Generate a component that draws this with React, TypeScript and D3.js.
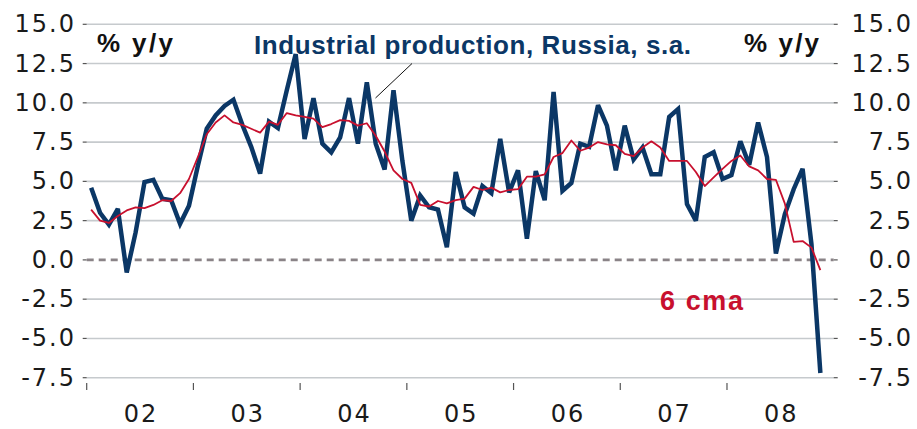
import React from "react";
import * as d3 from "d3";

// Monthly data, Jan 2002 .. Nov 2008 (% y/y)
const ipValues: number[] = [
  // 2002
  4.6, 3.0, 2.25, 3.25, -0.8, 1.75, 4.95, 5.1, 3.9, 3.8, 2.3, 3.45,
  // 2003
  6.0, 8.35, 9.2, 9.8, 10.2, 8.6, 7.2, 5.5, 8.8, 8.4, 10.8, 13.1,
  // 2004
  7.7, 10.3, 7.4, 6.85, 7.8, 10.3, 7.4, 11.3, 7.4, 5.75, 10.8, 6.3,
  // 2005
  2.5, 4.1, 3.35, 3.2, 0.8, 5.6, 3.35, 2.95, 4.7, 4.25, 7.7, 4.3,
  // 2006
  5.7, 1.35, 5.65, 3.8, 10.7, 4.4, 4.9, 7.4, 7.2, 9.85, 8.55, 5.7,
  // 2007
  8.55, 6.4, 7.15, 5.45, 5.45, 9.1, 9.6, 3.55, 2.5, 6.55, 6.85, 5.15,
  // 2008
  5.4, 7.55, 6.05, 8.75, 6.55, 0.4, 2.9, 4.5, 5.8, 1.0, -7.2,
];

// 6-month centred moving average, same months
const cmaValues: number[] = [
  // 2002
  3.2, 2.5, 2.35, 2.8, 3.15, 3.35, 3.3, 3.5, 3.8, 3.75, 4.25, 5.15,
  // 2003
  6.55, 8.0, 8.75, 9.2, 8.75, 8.6, 8.35, 8.1, 8.8, 8.6, 9.35, 9.2,
  // 2004
  9.1, 9.0, 8.45, 8.65, 8.9, 8.85, 8.55, 8.7, 7.9, 6.9, 5.7, 5.15,
  // 2005
  4.9, 3.5, 3.4, 3.75, 3.6, 3.8, 3.9, 4.65, 4.45, 4.6, 4.3, 4.45,
  // 2006
  4.5, 5.3, 5.3, 5.45, 6.55, 6.8, 7.6, 6.95, 7.15, 7.5, 7.35, 7.3,
  // 2007
  6.75, 6.6, 7.15, 7.55, 7.15, 6.3, 6.3, 6.3, 5.6, 4.7, 5.25, 5.8,
  // 2008
  6.3, 6.65, 5.95, 5.7, 5.15, 5.1, 3.6, 1.15, 1.2, 0.78, -0.65,
];

const yearLabels: string[] = ["02", "03", "04", "05", "06", "07", "08"];
const yTicks: number[] = [15, 12.5, 10, 7.5, 5, 2.5, 0, -2.5, -5, -7.5];

const titleText = "Industrial production, Russia, s.a.";
const unitText = "% y/y";
const cmaText = "6 cma";

const NAVY = "#0b3766";
const RED = "#c8102e";
const GRID = "#c6cacd";

export default function App() {
  const W = 917;
  const H = 429;
  const left = 86.7;
  const right = 833.7;
  const x = d3.scaleLinear().domain([0, yearLabels.length * 12]).range([left, right]);
  const y = d3.scaleLinear().domain([-7.5, 15]).range([377.7, 24.3]);

  const ipPts: [number, number][] = ipValues.map((v, i) => [x(i + 0.5), y(v)]);
  const cmaPts: [number, number][] = cmaValues.map((v, i) => [x(i + 0.5), y(v)]);
  const line = d3.line();

  const tickFont = { fontFamily: "DejaVu Sans", fontSize: 24, letterSpacing: 2, fill: "#1a1a1a" };

  return (
    <svg
      width={W}
      height={H}
      viewBox={`0 0 ${W} ${H}`}
      style={{ position: "absolute", left: 0, top: 0, background: "#fff" }}
    >
      {/* grid lines */}
      {yTicks.map((t) =>
        t === 0 ? null : (
          <line key={"g" + t} x1={left} x2={right} y1={y(t)} y2={y(t)} stroke={GRID} strokeWidth={1.6} />
        )
      )}
      {/* axis tick marks */}
      {yTicks.map((t) => (
        <g key={"tm" + t}>
          <line x1={left - 4} x2={left} y1={y(t)} y2={y(t)} stroke="#555" strokeWidth={1.2} />
          <line x1={right} x2={right + 4} y1={y(t)} y2={y(t)} stroke="#555" strokeWidth={1.2} />
        </g>
      ))}
      {/* y labels */}
      {yTicks.map((t) => (
        <g key={"yl" + t}>
          <text x={76} y={y(t) + 8} textAnchor="end" style={tickFont}>
            {t.toFixed(1)}
          </text>
          <text x={913} y={y(t) + 8} textAnchor="end" style={tickFont}>
            {t.toFixed(1)}
          </text>
        </g>
      ))}
      {/* x ticks and labels */}
      {yearLabels.map((lab, k) => (
        <g key={"x" + lab}>
          <line x1={x(k * 12)} x2={x(k * 12)} y1={383} y2={390} stroke="#555" strokeWidth={1.2} />
          <text x={x(k * 12 + 6) + 1} y={422} textAnchor="middle" style={tickFont}>
            {lab}
          </text>
        </g>
      ))}
      {/* zero line */}
      <line
        x1={left}
        x2={right}
        y1={y(0)}
        y2={y(0)}
        stroke="#8a8387"
        strokeWidth={2.6}
        strokeDasharray="7,5"
      />
      {/* series */}
      <path d={line(ipPts) || ""} fill="none" stroke={NAVY} strokeWidth={4.5} strokeLinejoin="miter" strokeMiterlimit={3} />
      <path d={line(cmaPts) || ""} fill="none" stroke={RED} strokeWidth={1.8} strokeLinejoin="round" />
      {/* annotations */}
      <line x1={375.5} y1={98} x2={412} y2={63.5} stroke="#111" strokeWidth={1} />
      <text
        x={254}
        y={54}
        textLength={437}
        lengthAdjust="spacing"
        style={{ fontFamily: "Liberation Sans", fontWeight: 700, fontSize: 26, fill: NAVY }}
      >
        {titleText}
      </text>
      <text
        x={97}
        y={51.5}
        textLength={76}
        lengthAdjust="spacing"
        style={{ fontFamily: "Liberation Sans", fontWeight: 700, fontSize: 26, fill: "#111" }}
      >
        {unitText}
      </text>
      <text
        x={744}
        y={51.5}
        textLength={75}
        lengthAdjust="spacing"
        style={{ fontFamily: "Liberation Sans", fontWeight: 700, fontSize: 26, fill: "#111" }}
      >
        {unitText}
      </text>
      <text
        x={660}
        y={310}
        textLength={83}
        lengthAdjust="spacing"
        style={{ fontFamily: "Liberation Sans", fontWeight: 700, fontSize: 27, fill: RED }}
      >
        {cmaText}
      </text>
    </svg>
  );
}
